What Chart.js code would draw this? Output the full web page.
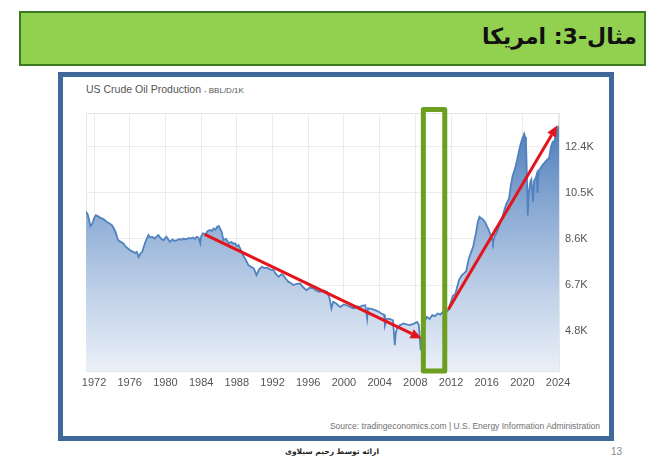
<!DOCTYPE html>
<html>
<head>
<meta charset="utf-8">
<script src="https://cdn.jsdelivr.net/npm/chart.js@4.4.1/dist/chart.umd.min.js"></script>
<style>
body { margin:0; width:670px; height:464px; background:#fff; position:relative; overflow:hidden; font-family:"Liberation Sans", Arial, sans-serif; }
#bar { position:absolute; left:19px; top:11px; width:627px; height:55px; box-sizing:border-box; background:#92d050; border:2px solid #3b7a23; }
#head { position:absolute; right:33px; top:24px; line-height:30px; font:bold 22px "DejaVu Sans", sans-serif; color:#111; direction:rtl; white-space:nowrap; }
#frame { position:absolute; left:58px; top:72px; width:556px; height:369px; box-sizing:border-box; border:5px solid #41689a; }
#ttl { position:absolute; left:86px; top:83px; font-size:10.5px; color:#555; white-space:nowrap; }
#ttl small { font-size:8px; }
#src { position:absolute; right:70px; top:421px; font-size:8.5px; color:#707070; white-space:nowrap; }
#foot { position:absolute; left:332px; top:447px; transform:translateX(-50%); font:bold 7.5px "DejaVu Sans", sans-serif; color:#222; direction:rtl; white-space:nowrap; }
#page { position:absolute; left:611px; top:446px; font-size:10px; color:#888; }
#wrap { position:absolute; left:0; top:0; width:670px; height:464px; }
</style>
</head>
<body>
<div id="bar"></div>
<div id="head">مثال-3: امریکا</div>
<div id="frame"></div>
<div id="ttl">US Crude Oil Production <small>- BBL/D/1K</small></div>
<div id="src">Source: tradingeconomics.com | U.S. Energy Information Administration</div>
<div id="foot">ارائه توسط رحیم سیلاوی</div>
<div id="page">13</div>
<div id="wrap"><canvas id="myChart" width="670" height="464"></canvas></div>
<script>
// US crude oil production, thousand barrels per day
const years = [
    1971.1, 1971.3, 1971.5, 1971.6, 1971.8, 1972.0, 1972.2, 1972.5, 1972.7, 1972.9,
    1973.2, 1973.4, 1973.7, 1974.0, 1974.2, 1974.4, 1974.6, 1974.7, 1975.0, 1975.3,
    1975.5, 1975.8, 1976.1, 1976.4, 1976.6, 1976.8, 1977.0, 1977.2, 1977.4, 1977.7,
    1977.9, 1978.1, 1978.3, 1978.5, 1978.8, 1979.0, 1979.2, 1979.5, 1979.8, 1980.1,
    1980.3, 1980.5, 1980.8, 1981.0, 1981.3, 1981.6, 1981.8, 1982.0, 1982.3, 1982.6,
    1982.8, 1983.1, 1983.3, 1983.5, 1983.7, 1983.9, 1984.0, 1984.2, 1984.5, 1984.7,
    1985.0, 1985.2, 1985.4, 1985.6, 1985.8, 1986.0, 1986.1, 1986.3, 1986.5, 1986.8,
    1987.1, 1987.4, 1987.6, 1987.8, 1988.0, 1988.2, 1988.5, 1988.7, 1989.0, 1989.3,
    1989.6, 1989.9, 1990.0, 1990.2, 1990.5, 1990.8, 1991.1, 1991.4, 1991.7, 1992.1,
    1992.4, 1992.7, 1993.0, 1993.2, 1993.5, 1993.8, 1994.1, 1994.3, 1994.7, 1995.1,
    1995.4, 1995.8, 1996.2, 1996.6, 1997.0, 1997.3, 1997.7, 1998.1, 1998.4, 1998.6,
    1998.8, 1999.1, 1999.4, 1999.6, 2000.0, 2000.3, 2000.7, 2001.1, 2001.5, 2001.8,
    2002.1, 2002.4, 2002.6, 2002.7, 2003.1, 2003.5, 2003.9, 2004.2, 2004.5, 2004.6,
    2004.8, 2005.0, 2005.3, 2005.5, 2005.7, 2005.8, 2006.0, 2006.3, 2006.7, 2007.0,
    2007.4, 2007.8, 2008.2, 2008.4, 2008.6, 2008.8, 2009.1, 2009.3, 2009.6, 2009.9,
    2010.2, 2010.5, 2010.8, 2011.1, 2011.4, 2011.7, 2011.9, 2012.2, 2012.5, 2012.9,
    2013.2, 2013.5, 2013.7, 2014.0, 2014.3, 2014.5, 2014.8, 2015.0, 2015.2, 2015.4,
    2015.6, 2015.8, 2016.0, 2016.2, 2016.4, 2016.6, 2016.7, 2016.9, 2017.1, 2017.4,
    2017.7, 2017.9, 2018.2, 2018.5, 2018.7, 2018.9, 2019.2, 2019.4, 2019.6, 2019.8,
    2020.0, 2020.2, 2020.3, 2020.4, 2020.5, 2020.6, 2020.7, 2020.9, 2021.0, 2021.2,
    2021.3, 2021.5, 2021.6, 2021.7, 2021.8, 2022.0, 2022.3, 2022.6, 2023.0, 2023.2,
    2023.4, 2023.6, 2023.8, 2024.0, 2024.1
];
const production = [
    9.72, 9.60, 9.30, 9.13, 9.22, 9.45, 9.58, 9.52, 9.47, 9.45,
    9.38, 9.31, 9.25, 9.17, 9.05, 8.90, 8.65, 8.55, 8.48, 8.42,
    8.30, 8.21, 8.12, 8.07, 8.02, 8.07, 7.86, 8.00, 8.07, 8.42,
    8.60, 8.76, 8.66, 8.69, 8.62, 8.70, 8.76, 8.62, 8.55, 8.69,
    8.60, 8.48, 8.58, 8.52, 8.55, 8.60, 8.56, 8.62, 8.58, 8.64,
    8.62, 8.66, 8.60, 8.69, 8.66, 8.42, 8.70, 8.83, 8.80, 8.92,
    8.97, 8.93, 9.03, 8.98, 9.10, 9.13, 9.05, 8.90, 8.55, 8.60,
    8.42, 8.48, 8.40, 8.42, 8.30, 8.35, 8.10, 7.93, 7.75, 7.52,
    7.45, 7.39, 7.30, 7.11, 7.35, 7.45, 7.40, 7.42, 7.35, 7.32,
    7.15, 7.04, 7.15, 7.11, 6.95, 6.83, 6.78, 6.70, 6.75, 6.77,
    6.62, 6.49, 6.60, 6.56, 6.45, 6.42, 6.48, 6.42, 6.15, 5.74,
    6.01, 5.95, 5.85, 5.80, 5.90, 5.87, 5.80, 5.74, 5.82, 5.80,
    5.85, 5.87, 5.32, 5.74, 5.72, 5.67, 5.60, 5.53, 5.48, 5.05,
    5.30, 5.32, 5.28, 5.25, 4.22, 4.70, 4.98, 5.05, 5.12, 5.08,
    5.05, 5.10, 5.18, 5.05, 4.02, 4.90, 5.25, 5.39, 5.30, 5.46,
    5.42, 5.53, 5.48, 5.60, 5.56, 5.67, 5.90, 6.25, 6.35, 6.92,
    7.10, 7.20, 7.27, 7.80, 8.10, 8.31, 8.85, 9.30, 9.51, 9.45,
    9.40, 9.30, 9.15, 9.00, 8.80, 8.60, 8.45, 8.73, 8.85, 9.15,
    9.43, 9.70, 10.05, 10.27, 10.80, 11.20, 11.53, 11.85, 12.20, 12.51,
    12.75, 12.93, 12.80, 12.65, 11.20, 9.57, 10.50, 10.97, 11.05, 10.13,
    11.00, 11.11, 11.25, 10.50, 11.40, 11.50, 11.67, 11.80, 11.95, 12.40,
    12.60, 12.65, 13.00, 13.21, 13.15
];
const xTicks = [1972, 1976, 1980, 1984, 1988, 1992, 1996, 2000, 2004, 2008, 2012, 2016, 2020, 2024];
const yTicks = [4.8, 6.7, 8.6, 10.5, 12.4];

// hand drawn marks on the slide, in chart units
const arrowFrom = [[1984.4, 8.79], [2011.7, 5.69]];
const arrowTo = [[2008.7, 4.50], [2023.9, 13.27]];
const boxYears = [2008.9, 2011.3];
const boxValues = [3.16, 13.93];

const points = years.map((yr, i) => ({ x: yr, y: production[i] }));

const marks = {
    id: 'marks',
    afterDatasetsDraw(chart) {
        const { ctx, scales: { x, y } } = chart;
        ctx.save();
        // green box
        const bx1 = x.getPixelForValue(boxYears[0]);
        const bx2 = x.getPixelForValue(boxYears[1]);
        const by1 = y.getPixelForValue(boxValues[1]);
        const by2 = y.getPixelForValue(boxValues[0]);
        ctx.strokeStyle = '#6c9f1f';
        ctx.lineWidth = 5;
        ctx.lineJoin = 'round';
        ctx.strokeRect(bx1, by1, bx2 - bx1, by2 - by1);
        // red arrows
        ctx.strokeStyle = '#e3141c';
        ctx.fillStyle = '#e3141c';
        ctx.lineWidth = 3;
        for (let i = 0; i < arrowFrom.length; i++) {
            const x1 = x.getPixelForValue(arrowFrom[i][0]), y1 = y.getPixelForValue(arrowFrom[i][1]);
            const x2 = x.getPixelForValue(arrowTo[i][0]), y2 = y.getPixelForValue(arrowTo[i][1]);
            const a = Math.atan2(y2 - y1, x2 - x1);
            const hl = 11, hw = 5;
            const bx = x2 - hl * Math.cos(a), by = y2 - hl * Math.sin(a);
            ctx.beginPath();
            ctx.moveTo(x1, y1);
            ctx.lineTo(bx, by);
            ctx.stroke();
            ctx.beginPath();
            ctx.moveTo(x2, y2);
            ctx.lineTo(bx + hw * Math.sin(a), by - hw * Math.cos(a));
            ctx.lineTo(bx - hw * Math.sin(a), by + hw * Math.cos(a));
            ctx.closePath();
            ctx.fill();
        }
        ctx.restore();
    }
};

// light frame round the plot
const plotBox = {
    id: 'plotBox',
    beforeDatasetsDraw(chart) {
        const { ctx, chartArea: ca } = chart;
        ctx.save();
        ctx.strokeStyle = '#e6e6e6';
        ctx.lineWidth = 1;
        ctx.strokeRect(ca.left + 0.5, ca.top + 0.5, ca.right - ca.left, ca.bottom - ca.top);
        ctx.restore();
    }
};

const config = {
    type: 'line',
    data: {
        datasets: [{
            label: 'US Crude Oil Production',
            data: points,
            borderColor: '#5082be',
            borderWidth: 1.8,
            pointRadius: 0,
            tension: 0,
            fill: 'start',
            backgroundColor: (c) => {
                const ca = c.chart.chartArea;
                if (!ca) return 'rgba(80,130,190,0.5)';
                const g = c.chart.ctx.createLinearGradient(0, ca.top, 0, ca.bottom);
                g.addColorStop(0, '#4576b6');
                g.addColorStop(0.35, '#86a7d2');
                g.addColorStop(0.7, '#c0d1e8');
                g.addColorStop(1, '#eaf0f8');
                return g;
            }
        }]
    },
    options: {
        responsive: false,
        animation: false,
        layout: { padding: { left: 86, top: 113, right: 71, bottom: 73 } },
        plugins: { legend: { display: false }, tooltip: { enabled: false } },
        scales: {
            x: {
                type: 'linear',
                min: 1971.1,
                max: 2024.1,
                afterBuildTicks: (s) => { s.ticks = xTicks.map(v => ({ value: v })); },
                afterFit: (s) => { s.height = 20; },
                grid: { color: '#ececec', drawTicks: false },
                border: { display: false },
                ticks: {
                    autoSkip: false, maxRotation: 0, padding: 5, color: '#555',
                    font: { family: '"Liberation Sans", Arial, sans-serif', size: 11 },
                    callback: (v) => String(v)
                }
            },
            y: {
                position: 'right',
                min: 3.16,
                max: 13.79,
                afterBuildTicks: (s) => { s.ticks = yTicks.map(v => ({ value: v })); },
                afterFit: (s) => { s.width = 40; },
                grid: { color: '#ececec', drawTicks: false },
                border: { display: false },
                ticks: {
                    padding: 6, color: '#555',
                    font: { family: '"Liberation Sans", Arial, sans-serif', size: 11 },
                    callback: (v) => v.toFixed(1) + 'K'
                }
            }
        }
    },
    plugins: [plotBox, marks]
};

const canvas = document.getElementById('myChart');
window.myChart = new Chart(canvas, config);
</script>
</body>
</html>
